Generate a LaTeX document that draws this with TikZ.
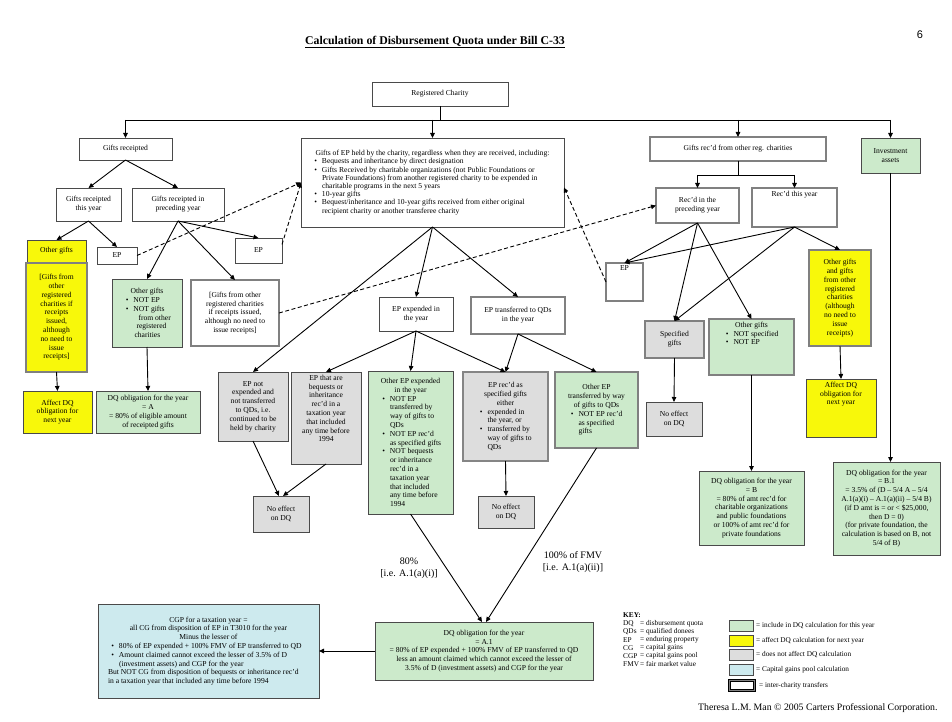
\documentclass[tikz,border=0pt]{standalone}
\usepackage{fontspec}
\setmainfont{Liberation Serif}
\newfontfamily\arialf{Liberation Sans}
\usetikzlibrary{arrows.meta,calc}
\definecolor{cgreen}{HTML}{CCEACB}
\definecolor{cyellow}{HTML}{F8F80A}
\definecolor{cgrey}{HTML}{DDDDDD}
\definecolor{cblue}{HTML}{CDEAEE}
\definecolor{bord}{HTML}{4A4A4A}
\newcommand\fs{\fontsize{7.6}{8.8}\selectfont}
\newcommand\bitem[2][18pt]{\par{\leftskip=#1\relax\rightskip=0pt plus 1fil\parfillskip=0pt plus 1fil\noindent\llap{\textbullet\hspace{5pt}}#2\par}}
\newcommand\bxgen[8]{\node[box,#1,minimum width={(#6-#4)*1pt},minimum height={(#7-#5)*1pt}] (#3) at ({(#4+#6)/2},{(#5+#7)/2}) {\parbox[c][\dimexpr #7pt-#5pt-6pt\relax][#2]{\dimexpr #6pt-#4pt-5pt\relax}{\centering\fs #8\par}};}
\newcommand\bx[7][]{\bxgen{#1}{c}{#2}{#3}{#4}{#5}{#6}{#7}}
\newcommand\bxt[7][]{\bxgen{#1}{t}{#2}{#3}{#4}{#5}{#6}{#7}}
\tikzset{
  box/.style={draw=bord, line width=0.75pt, inner sep=0pt, outer sep=0pt},
  dbl/.style={draw=black, line width=0.55pt, double=black!50, double distance=1.7pt},
  conn/.style={line width=0.9pt, draw=black},
  arr/.style={conn, -{Triangle[length=5pt,width=4.5pt]}},
  darr/.style={arr, dash pattern=on 4pt off 2.5pt},
  lab/.style={font=\fontsize{10}{12}\selectfont, align=center, inner sep=0pt},
  keyt/.style={font=\fontsize{7.3}{8}\selectfont, anchor=west, inner sep=0pt},
}
\begin{document}
\begin{tikzpicture}[x=1pt,y=-1pt]
\useasboundingbox (0,0) rectangle (952,722);
\node[font=\fontsize{11.8}{13}\selectfont\bfseries, inner sep=0pt] (title) at (435,42) {\underline{Calculation of Disbursement Quota under Bill C-33}};
\node[font=\arialf\fontsize{11}{13}\selectfont, inner sep=0pt] (pgno) at (920,35) {6};

% top
\bx{rc}{372}{82}{508}{106}{Registered Charity}
\bx{gr}{79}{138}{172}{160}{Gifts receipted}
\bx{gty}{56}{188}{121}{221}{Gifts receipted\\this year}
\bx{gpy}{132}{188}{224}{221}{Gifts receipted in\\preceding year}
\bx[fill=cyellow]{og1}{27}{240}{86}{262}{Other gifts}
\bx[fill=cyellow,dbl]{gfo1}{26}{263}{87}{372}{[Gifts from\\other\\registered\\charities if\\receipts\\issued,\\although\\no need to\\issue\\receipts]}
\bx[fill=cyellow]{aff1}{23}{391}{92}{433}{Affect DQ\\obligation for\\next year}
\bx{ep1}{97}{247}{137}{264}{EP}
\bx{ep2}{235}{238}{282}{263}{EP}
\bx[fill=cgreen]{og2}{112}{279}{182}{347}{Other gifts\par
  \bitem[19pt]{NOT EP}\bitem[19pt]{NOT gifts\\\hspace*{5pt}from other\\\hspace*{3pt}registered\\\hspace*{1pt}charities}}
\bx[fill=cgreen]{dqa}{96}{391}{200}{433}{DQ obligation for the year\\= A\\= 80\% of eligible amount\\of receipted gifts}
\bx[dbl,fill=white]{gfo2}{191}{280}{279}{346}{[Gifts from other\\registered charities\\if receipts issued,\\although no need to\\issue receipts]}

\bx{gep}{301}{138}{564}{227}{\fontsize{7.6}{8.2}\selectfont Gifts of EP held by the charity, regardless when they are received, including:\par
  \bitem[18.5pt]{Bequests and inheritance by direct designation}
  \bitem[18.5pt]{Gifts Received by charitable organizations (not Public Foundations or\\Private Foundations) from another registered charity to be expended in\\charitable programs in the next 5 years}
  \bitem[18.5pt]{10-year gifts}
  \bitem[18.5pt]{Bequest/inheritance and 10-year gifts received from either original\\recipient charity or another transferee charity}}

% middle
\bx[fill=cgrey]{epn}{218}{372}{288}{441}{EP not\\expended and\\not transferred\\to QDs, i.e.\\continued to be\\held by charity}
\bxt[fill=cgrey]{epb}{291}{372}{361}{464}{EP that are\\bequests or\\inheritance\\rec'd in a\\taxation year\\that included\\any time before\\1994}
\bx[fill=cgrey]{ne1}{253}{496}{309}{532}{No effect\\on DQ}
\bx{epe}{379}{297}{453}{331}{EP expended in\\the year}
\bx[dbl,fill=white]{ept}{471}{297}{565}{334}{EP transferred to QDs\\in the year}
\bx[fill=cgreen]{oee}{368}{371}{453}{514}{Other EP expended\\in the year\par
  \bitem[19.5pt]{NOT EP\\transferred by\\way of gifts to\\QDs}
  \bitem[19.5pt]{NOT EP rec'd\\as specified gifts}
  \bitem[19.5pt]{NOT bequests\\or inheritance\\rec'd in a\\taxation year\\that included\\any time before\\1994}}
\bx[fill=cgrey,dbl,double=cgrey!60!black]{eps}{463}{372}{548}{461}{EP rec'd as\\specified gifts\\either\par
  \bitem[22pt]{expended in\\the year, or}
  \bitem[22pt]{transferred by\\way of gifts to\\QDs}}
\bx[fill=cgrey]{ne2}{478}{496}{534}{528}{No effect\\on DQ}
\bx[fill=cgreen,dbl]{oet}{555}{372}{638}{448}{Other EP\\transferred by way\\of gifts to QDs\par
  \bitem[21pt]{NOT EP rec'd\\as specified\\gifts}}

% bottom
\bx[fill=cgreen]{dqa1}{375}{622}{593}{680}{DQ obligation for the year\\= A.1\\= 80\% of EP expended + 100\% FMV of EP transferred to QD\\less an amount claimed which cannot exceed the lesser of\\3.5\% of D (investment assets) and CGP for the year}
\bx[fill=cblue]{cgp}{98}{604}{319}{698}{CGP for a taxation year =\\all CG from disposition of EP in T3010 for the year\\Minus the lesser of\par
  \bitem[18.5pt]{80\% of EP expended + 100\% FMV of EP transferred to QD}
  \bitem[18.5pt]{Amount claimed cannot exceed the lesser of 3.5\% of D\\(investment assets) and CGP for the year}
  {\leftskip=7.5pt\rightskip=0pt plus 1fil\parfillskip=0pt plus 1fil\noindent But NOT CG from disposition of bequests or inheritance rec'd\\in a taxation year that included any time before 1994\par}}

% right side
\bx[dbl,fill=white]{grc}{650}{137}{826}{161}{Gifts rec'd from other reg. charities}
\bx[dbl,fill=white]{rpy}{656}{188}{739}{223}{Rec'd in the\\preceding year}
\bxt[dbl,fill=white]{rty}{752}{188}{837}{227}{Rec'd this year}
\bx[fill=cgreen]{inv}{861}{138}{920}{173}{Investment\\assets}
\bxt[dbl,fill=white]{ep3}{606}{263}{643}{301}{EP}
\bx[dbl,fill=cgrey]{spg}{645}{321}{704}{358}{Specified\\gifts}
\bx[fill=cgrey]{ne3}{646}{402}{702}{436}{No effect\\on DQ}
\bxt[dbl,fill=cgreen]{og3}{709}{319}{794}{375}{Other gifts\par
  \bitem[22pt]{NOT specified}\bitem[22pt]{NOT EP}}
\bx[dbl,fill=cyellow]{yb}{809}{250}{871}{346}{Other gifts\\and gifts\\from other\\registered\\charities\\(although\\no need to\\issue\\receipts)}
\bxt[fill=cyellow]{aff2}{806}{379}{876}{437}{Affect DQ\\obligation for\\next year}
\bx[fill=cgreen]{dqb}{699}{471}{804}{545}{DQ obligation for the year\\= B\\= 80\% of amt rec'd for\\charitable organizations\\and public foundations\\or 100\% of amt rec'd for\\private foundations}
\bx[fill=cgreen]{dqb1}{833}{462}{940}{555}{DQ obligation for the year\\= B.1\\= 3.5\% of (D \textendash{} 5/4 A \textendash{} 5/4\\A.1(a)(i) \textendash{} A.1(a)(ii) \textendash{} 5/4 B)\\(if D amt is = or < \$25,000,\\then D = 0)\\(for private foundation, the\\calculation is based on B, not\\5/4 of B)}

% labels
\node[lab] (l80) at (409,568) {80\%\\{[}i.e. A.1(a)(i)]};
\node[lab] (l100) at (573,562) {100\% of FMV\\{[}i.e. A.1(a)(ii)]};

% connectors: top bus
\draw[conn] (rc.south) -- ++(0,14) coordinate (b0);
\coordinate (bL) at (gr.north |- b0);
\coordinate (bR) at (inv.north |- b0);
\draw[conn] (bL) -- (bR);
\draw[arr] (bL) -- (gr.north);
\draw[arr] (gep.north |- b0) -- (gep.north);
\draw[arr] (grc.north |- b0) -- (grc.north);
\draw[arr] (bR) -- (inv.north);

% left tree
\draw[arr] (gr.south) -- (gty.north);
\draw[arr] (gr.south) -- (gpy.north);
\draw[arr] (gty.south) -- (og1.north);
\draw[arr] (gty.south) -- (ep1.north);
\draw[arr] (gpy.south) -- (og2.north);
\draw[arr] (gpy.south) -- (gfo2.north);
\draw[arr] (gpy.south) -- (ep2.north);
\draw[arr] (gfo1.south) -- (aff1.north);
\draw[arr] (og2.south) -- (dqa.north);

% center tree
\draw[arr] (gep.south) -- (epn.north);
\draw[arr] (gep.south) -- (epe.north);
\draw[arr] (gep.south) -- (ept.north);
\draw[arr] (epe.south) -- (epb.north);
\draw[arr] (epe.south) -- (oee.north);
\draw[arr] (epe.south) -- (eps.north);
\draw[arr] (ept.south) -- (eps.north);
\draw[arr] (ept.south) -- (oet.north);
\draw[arr] (epn.south) -- ([xshift=-2pt]ne1.north);
\draw[arr] (epb.south) -- ([xshift=2pt]ne1.north);
\draw[arr] (eps.south) -- (ne2.north);
\draw[arr] (oee.south) -- ([xshift=-2pt]dqa1.north);
\draw[arr] (oet.south) -- ([xshift=2pt]dqa1.north);
\draw[arr] (dqa1.west) -- (cgp.east);

% right tree
\draw[conn] (grc.south) -- ++(0,14) coordinate (c0);
\draw[conn] (rpy.north |- c0) -- (rty.north |- c0);
\draw[arr] (rpy.north |- c0) -- (rpy.north);
\draw[arr] (rty.north |- c0) -- (rty.north);
\draw[arr] (rpy.south) -- (ep3.north);
\draw[arr] (rpy.south) -- (spg.north);
\draw[arr] (rpy.south) -- (og3.north);
\draw[arr] (rty.south) -- (ep3.north);
\draw[arr] (rty.south) -- (spg.north);
\draw[arr] (rty.south) -- (yb.north);
\draw[arr] (spg.south) -- (ne3.north);
\draw[arr] (og3.south) -- (dqb.north);
\draw[arr] (yb.south) -- (aff2.north);
\draw[arr] (inv.south) -- (inv.south |- dqb1.north);

% dashed
\draw[darr] (ep1.east) -- (gep.west);
\draw[darr] ([yshift=6pt]ep2.east) -- (gep.west);
\draw[darr] (ep3.west) -- ([yshift=-5pt]gep.east);
\draw[darr] (gfo2.east) -- (rpy.west);

% key
\node[keyt] (key) at (623,615) {\textbf{KEY:}};
\node[keyt] (a1) at (623,624) {DQ};
\node[keyt] (a2) at (623,632) {QDs};
\node[keyt] (a3) at (623,640) {EP};
\node[keyt] (a4) at (623,648) {CG};
\node[keyt] (a5) at (623,656) {CGP};
\node[keyt] (a6) at (623,664) {FMV};
\node[keyt] (d1) at (640,624) {= disbursement quota};
\node[keyt] (d2) at (640,632) {= qualified donees};
\node[keyt] (d3) at (640,640) {= enduring property};
\node[keyt] (d4) at (640,648) {= capital gains};
\node[keyt] (d5) at (640,656) {= capital gains pool};
\node[keyt] (d6) at (640,664) {= fair market value};
\node[box,fill=cgreen,minimum width=24pt,minimum height=11pt] (s1) at (741,625.5) {};
\node[box,fill=cyellow,minimum width=24pt,minimum height=11pt] (s2) at (741,640.5) {};
\node[box,fill=cgrey,minimum width=24pt,minimum height=11pt] (s3) at (741,654.5) {};
\node[box,fill=cblue,minimum width=24pt,minimum height=11pt] (s4) at (741,669.5) {};
\node[box,dbl,fill=white,minimum width=25pt,minimum height=10pt] (s5) at (742,685.5) {};
\node[keyt] (t1) at (756,625.5) {= include in DQ calculation for this year};
\node[keyt] (t2) at (756,640.5) {= affect DQ calculation for next year};
\node[keyt] (t3) at (756,654.5) {= does not affect DQ calculation};
\node[keyt] (t4) at (756,669.5) {= Capital gains pool calculation};
\node[keyt] (t5) at (759,685.5) {= inter-charity transfers};
\node[font=\fontsize{9.8}{11}\selectfont, anchor=west, inner sep=0pt] (foot) at (698,708) {Theresa L.M. Man \textcopyright{} 2005 Carters Professional Corporation.};
\end{tikzpicture}
\end{document}
